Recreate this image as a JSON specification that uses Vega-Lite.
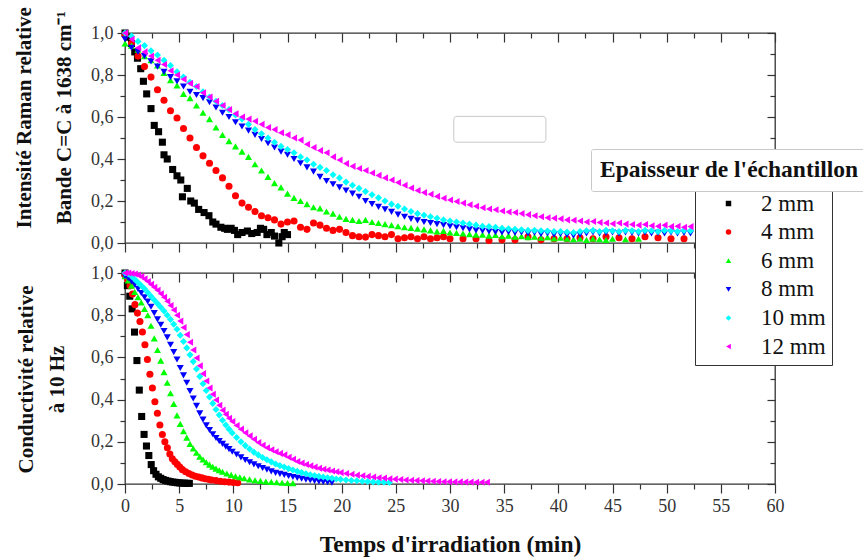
{
"$schema":"https://vega.github.io/schema/vega-lite/v6.json",
"background":"white",
"padding":{"left":13,"top":6,"right":0,"bottom":0},
"config":{"font":"Liberation Serif","view":{"stroke":"#333","strokeWidth":1.3},
"axis":{"labelFont":"Liberation Serif","titleFont":"Liberation Serif","grid":false,"domain":false,"tickColor":"#333","tickWidth":1.2,"labelColor":"#333","titleColor":"#111"},
"legend":{"labelFont":"Liberation Serif","titleFont":"Liberation Serif"}},
"datasets":{
"ram":[
{"s":2,"t":0,"v":1},{"s":2,"t":0.3,"v":0.98},{"s":2,"t":0.6,"v":0.95},{"s":2,"t":0.9,"v":0.91},{"s":2,"t":1.15,"v":0.88},{"s":2,"t":1.45,"v":0.83},{"s":2,"t":1.7,"v":0.77},{"s":2,"t":2.0,"v":0.71},{"s":2,"t":2.4,"v":0.64},{"s":2,"t":2.7,"v":0.56},{"s":2,"t":3.1,"v":0.53},{"s":2,"t":3.45,"v":0.48},{"s":2,"t":3.6,"v":0.42},{"s":2,"t":3.9,"v":0.4},{"s":2,"t":4.4,"v":0.35},{"s":2,"t":4.8,"v":0.32},{"s":2,"t":5.15,"v":0.3},{"s":2,"t":5.3,"v":0.22},{"s":2,"t":5.75,"v":0.26},{"s":2,"t":6.07,"v":0.2},{"s":2,"t":6.4,"v":0.19},{"s":2,"t":6.8,"v":0.16},{"s":2,"t":7.3,"v":0.145},{"s":2,"t":7.75,"v":0.13},{"s":2,"t":8.1,"v":0.1},{"s":2,"t":8.4,"v":0.09},{"s":2,"t":8.85,"v":0.075},{"s":2,"t":9.2,"v":0.07},{"s":2,"t":9.45,"v":0.065},{"s":2,"t":9.8,"v":0.07},{"s":2,"t":10.1,"v":0.06},{"s":2,"t":10.4,"v":0.04},{"s":2,"t":10.8,"v":0.05},{"s":2,"t":11.3,"v":0.057},{"s":2,"t":11.7,"v":0.045},{"s":2,"t":12.2,"v":0.05},{"s":2,"t":12.5,"v":0.07},{"s":2,"t":12.8,"v":0.065},{"s":2,"t":13.1,"v":0.04},{"s":2,"t":13.5,"v":0.05},{"s":2,"t":13.8,"v":0.033},{"s":2,"t":14.2,"v":0.0},{"s":2,"t":14.5,"v":0.03},{"s":2,"t":14.7,"v":0.05},{"s":2,"t":15.0,"v":0.04},
{"s":4,"t":0,"v":0.99},{"s":4,"t":0.6,"v":0.95},{"s":4,"t":1.2,"v":0.89},{"s":4,"t":1.8,"v":0.84},{"s":4,"t":2.4,"v":0.79},{"s":4,"t":3.0,"v":0.73},{"s":4,"t":3.6,"v":0.68},{"s":4,"t":4.2,"v":0.63},{"s":4,"t":4.8,"v":0.595},{"s":4,"t":5.4,"v":0.545},{"s":4,"t":6.0,"v":0.5},{"s":4,"t":6.6,"v":0.455},{"s":4,"t":7.2,"v":0.415},{"s":4,"t":7.8,"v":0.38},{"s":4,"t":8.4,"v":0.345},{"s":4,"t":9.0,"v":0.31},{"s":4,"t":9.6,"v":0.27},{"s":4,"t":10.2,"v":0.225},{"s":4,"t":10.8,"v":0.19},{"s":4,"t":11.4,"v":0.17},{"s":4,"t":12.0,"v":0.15},{"s":4,"t":12.6,"v":0.13},{"s":4,"t":13.2,"v":0.12},{"s":4,"t":13.8,"v":0.11},{"s":4,"t":14.4,"v":0.09},{"s":4,"t":15.0,"v":0.1},{"s":4,"t":15.6,"v":0.105},{"s":4,"t":16.2,"v":0.075},{"s":4,"t":16.8,"v":0.065},{"s":4,"t":17.4,"v":0.095},{"s":4,"t":18.0,"v":0.085},{"s":4,"t":18.6,"v":0.07},{"s":4,"t":19.2,"v":0.06},{"s":4,"t":19.8,"v":0.065},{"s":4,"t":20.4,"v":0.05},{"s":4,"t":21.0,"v":0.035},{"s":4,"t":21.6,"v":0.03},{"s":4,"t":22.2,"v":0.028},{"s":4,"t":22.8,"v":0.04},{"s":4,"t":23.4,"v":0.035},{"s":4,"t":24.0,"v":0.03},{"s":4,"t":24.6,"v":0.04},{"s":4,"t":25.2,"v":0.02},{"s":4,"t":25.8,"v":0.025},{"s":4,"t":26.4,"v":0.03},{"s":4,"t":27.0,"v":0.02},{"s":4,"t":27.6,"v":0.03},{"s":4,"t":28.2,"v":0.02},{"s":4,"t":28.8,"v":0.025},{"s":4,"t":29.4,"v":0.03},{"s":4,"t":30.0,"v":0.02},{"s":4,"t":31.2,"v":0.02},{"s":4,"t":32.4,"v":0.02},{"s":4,"t":33.6,"v":0.012},{"s":4,"t":34.8,"v":0.015},{"s":4,"t":36.0,"v":0.015},{"s":4,"t":37.2,"v":0.03},{"s":4,"t":38.4,"v":0.015},{"s":4,"t":39.6,"v":0.02},{"s":4,"t":40.8,"v":0.02},{"s":4,"t":42.0,"v":0.025},{"s":4,"t":43.2,"v":0.02},{"s":4,"t":44.4,"v":0.03},{"s":4,"t":45.6,"v":0.025},{"s":4,"t":46.8,"v":0.02},{"s":4,"t":48.0,"v":0.03},{"s":4,"t":49.2,"v":0.025},{"s":4,"t":50.4,"v":0.02},{"s":4,"t":51.6,"v":0.02},
{"s":6,"t":0,"v":0.95},{"s":6,"t":0.6,"v":0.94},{"s":6,"t":1.2,"v":0.92},{"s":6,"t":1.8,"v":0.89},{"s":6,"t":2.4,"v":0.87},{"s":6,"t":3.0,"v":0.845},{"s":6,"t":3.6,"v":0.81},{"s":6,"t":4.2,"v":0.775},{"s":6,"t":4.8,"v":0.75},{"s":6,"t":5.4,"v":0.71},{"s":6,"t":6.0,"v":0.69},{"s":6,"t":6.6,"v":0.655},{"s":6,"t":7.2,"v":0.62},{"s":6,"t":7.8,"v":0.59},{"s":6,"t":8.4,"v":0.55},{"s":6,"t":9.0,"v":0.515},{"s":6,"t":9.6,"v":0.485},{"s":6,"t":10.2,"v":0.46},{"s":6,"t":10.8,"v":0.435},{"s":6,"t":11.4,"v":0.41},{"s":6,"t":12.0,"v":0.375},{"s":6,"t":12.6,"v":0.345},{"s":6,"t":13.2,"v":0.315},{"s":6,"t":13.8,"v":0.285},{"s":6,"t":14.4,"v":0.265},{"s":6,"t":15.0,"v":0.235},{"s":6,"t":15.6,"v":0.215},{"s":6,"t":16.2,"v":0.2},{"s":6,"t":16.8,"v":0.185},{"s":6,"t":17.4,"v":0.17},{"s":6,"t":18.0,"v":0.165},{"s":6,"t":18.6,"v":0.15},{"s":6,"t":19.2,"v":0.14},{"s":6,"t":19.8,"v":0.125},{"s":6,"t":20.4,"v":0.115},{"s":6,"t":21.0,"v":0.11},{"s":6,"t":21.6,"v":0.105},{"s":6,"t":22.2,"v":0.11},{"s":6,"t":22.8,"v":0.1},{"s":6,"t":23.4,"v":0.095},{"s":6,"t":24.0,"v":0.09},{"s":6,"t":24.6,"v":0.085},{"s":6,"t":25.2,"v":0.08},{"s":6,"t":25.8,"v":0.075},{"s":6,"t":26.4,"v":0.072},{"s":6,"t":27.0,"v":0.068},{"s":6,"t":27.6,"v":0.065},{"s":6,"t":28.2,"v":0.06},{"s":6,"t":28.8,"v":0.055},{"s":6,"t":29.4,"v":0.058},{"s":6,"t":30.0,"v":0.05},{"s":6,"t":30.6,"v":0.048},{"s":6,"t":31.2,"v":0.045},{"s":6,"t":31.8,"v":0.042},{"s":6,"t":32.4,"v":0.04},{"s":6,"t":33.0,"v":0.04},{"s":6,"t":33.6,"v":0.035},{"s":6,"t":34.2,"v":0.038},{"s":6,"t":34.8,"v":0.032},{"s":6,"t":35.4,"v":0.035},{"s":6,"t":36.0,"v":0.03},{"s":6,"t":36.6,"v":0.032},{"s":6,"t":37.2,"v":0.028},{"s":6,"t":37.8,"v":0.03},{"s":6,"t":38.4,"v":0.025},{"s":6,"t":39.0,"v":0.028},{"s":6,"t":39.6,"v":0.022},{"s":6,"t":40.2,"v":0.025},{"s":6,"t":40.8,"v":0.02},{"s":6,"t":41.4,"v":0.018},{"s":6,"t":42.0,"v":0.02},{"s":6,"t":42.6,"v":0.015},{"s":6,"t":43.2,"v":0.02},{"s":6,"t":43.8,"v":0.018},{"s":6,"t":44.4,"v":0.015},{"s":6,"t":45.0,"v":0.02},{"s":6,"t":46.2,"v":0.018},{"s":6,"t":47.4,"v":0.02},
{"s":8,"t":0,"v":0.97},{"s":8,"t":0.6,"v":0.93},{"s":8,"t":1.2,"v":0.91},{"s":8,"t":1.8,"v":0.89},{"s":8,"t":2.4,"v":0.865},{"s":8,"t":3.0,"v":0.84},{"s":8,"t":3.6,"v":0.815},{"s":8,"t":4.2,"v":0.79},{"s":8,"t":4.8,"v":0.77},{"s":8,"t":5.4,"v":0.745},{"s":8,"t":6.0,"v":0.72},{"s":8,"t":6.6,"v":0.705},{"s":8,"t":7.2,"v":0.69},{"s":8,"t":7.8,"v":0.67},{"s":8,"t":8.4,"v":0.645},{"s":8,"t":9.0,"v":0.62},{"s":8,"t":9.6,"v":0.6},{"s":8,"t":10.2,"v":0.575},{"s":8,"t":10.8,"v":0.555},{"s":8,"t":11.4,"v":0.535},{"s":8,"t":12.0,"v":0.515},{"s":8,"t":12.6,"v":0.495},{"s":8,"t":13.2,"v":0.475},{"s":8,"t":13.8,"v":0.455},{"s":8,"t":14.4,"v":0.435},{"s":8,"t":15.0,"v":0.42},{"s":8,"t":15.6,"v":0.4},{"s":8,"t":16.2,"v":0.38},{"s":8,"t":16.8,"v":0.36},{"s":8,"t":17.4,"v":0.34},{"s":8,"t":18.0,"v":0.315},{"s":8,"t":18.6,"v":0.295},{"s":8,"t":19.2,"v":0.28},{"s":8,"t":19.8,"v":0.265},{"s":8,"t":20.4,"v":0.25},{"s":8,"t":21.0,"v":0.235},{"s":8,"t":21.6,"v":0.22},{"s":8,"t":22.2,"v":0.2},{"s":8,"t":22.8,"v":0.185},{"s":8,"t":23.4,"v":0.172},{"s":8,"t":24.0,"v":0.16},{"s":8,"t":24.6,"v":0.148},{"s":8,"t":25.2,"v":0.135},{"s":8,"t":25.8,"v":0.125},{"s":8,"t":26.4,"v":0.115},{"s":8,"t":27.0,"v":0.108},{"s":8,"t":27.6,"v":0.1},{"s":8,"t":28.2,"v":0.095},{"s":8,"t":28.8,"v":0.09},{"s":8,"t":29.4,"v":0.085},{"s":8,"t":30.0,"v":0.08},{"s":8,"t":30.6,"v":0.075},{"s":8,"t":31.2,"v":0.07},{"s":8,"t":31.8,"v":0.065},{"s":8,"t":32.4,"v":0.06},{"s":8,"t":33.0,"v":0.058},{"s":8,"t":33.6,"v":0.055},{"s":8,"t":34.2,"v":0.052},{"s":8,"t":34.8,"v":0.05},{"s":8,"t":35.4,"v":0.052},{"s":8,"t":36.0,"v":0.048},{"s":8,"t":36.6,"v":0.05},{"s":8,"t":37.2,"v":0.045},{"s":8,"t":37.8,"v":0.048},{"s":8,"t":38.4,"v":0.042},{"s":8,"t":39.0,"v":0.045},{"s":8,"t":39.6,"v":0.04},{"s":8,"t":40.2,"v":0.042},{"s":8,"t":40.8,"v":0.038},{"s":8,"t":41.4,"v":0.035},{"s":8,"t":42.0,"v":0.04},{"s":8,"t":42.6,"v":0.045},{"s":8,"t":43.2,"v":0.05},{"s":8,"t":43.8,"v":0.045},{"s":8,"t":44.4,"v":0.048},{"s":8,"t":45.0,"v":0.05},{"s":8,"t":45.6,"v":0.045},{"s":8,"t":46.2,"v":0.05},{"s":8,"t":46.8,"v":0.048},{"s":8,"t":47.4,"v":0.045},{"s":8,"t":48.0,"v":0.05},{"s":8,"t":48.6,"v":0.045},{"s":8,"t":49.2,"v":0.048},{"s":8,"t":49.8,"v":0.045},{"s":8,"t":50.4,"v":0.05},{"s":8,"t":51.0,"v":0.045},{"s":8,"t":51.6,"v":0.048},{"s":8,"t":52.2,"v":0.045},
{"s":10,"t":0,"v":1.0},{"s":10,"t":0.6,"v":0.985},{"s":10,"t":1.2,"v":0.96},{"s":10,"t":1.8,"v":0.94},{"s":10,"t":2.4,"v":0.915},{"s":10,"t":3.0,"v":0.895},{"s":10,"t":3.6,"v":0.87},{"s":10,"t":4.2,"v":0.845},{"s":10,"t":4.8,"v":0.815},{"s":10,"t":5.4,"v":0.79},{"s":10,"t":6.0,"v":0.765},{"s":10,"t":6.6,"v":0.745},{"s":10,"t":7.2,"v":0.72},{"s":10,"t":7.8,"v":0.695},{"s":10,"t":8.4,"v":0.675},{"s":10,"t":9.0,"v":0.655},{"s":10,"t":9.6,"v":0.635},{"s":10,"t":10.2,"v":0.61},{"s":10,"t":10.8,"v":0.59},{"s":10,"t":11.4,"v":0.565},{"s":10,"t":12.0,"v":0.54},{"s":10,"t":12.6,"v":0.52},{"s":10,"t":13.2,"v":0.5},{"s":10,"t":13.8,"v":0.48},{"s":10,"t":14.4,"v":0.46},{"s":10,"t":15.0,"v":0.445},{"s":10,"t":15.6,"v":0.43},{"s":10,"t":16.2,"v":0.41},{"s":10,"t":16.8,"v":0.395},{"s":10,"t":17.4,"v":0.375},{"s":10,"t":18.0,"v":0.36},{"s":10,"t":18.6,"v":0.345},{"s":10,"t":19.2,"v":0.325},{"s":10,"t":19.8,"v":0.31},{"s":10,"t":20.4,"v":0.29},{"s":10,"t":21.0,"v":0.275},{"s":10,"t":21.6,"v":0.26},{"s":10,"t":22.2,"v":0.245},{"s":10,"t":22.8,"v":0.23},{"s":10,"t":23.4,"v":0.215},{"s":10,"t":24.0,"v":0.2},{"s":10,"t":24.6,"v":0.185},{"s":10,"t":25.2,"v":0.175},{"s":10,"t":25.8,"v":0.162},{"s":10,"t":26.4,"v":0.15},{"s":10,"t":27.0,"v":0.14},{"s":10,"t":27.6,"v":0.132},{"s":10,"t":28.2,"v":0.125},{"s":10,"t":28.8,"v":0.118},{"s":10,"t":29.4,"v":0.11},{"s":10,"t":30.0,"v":0.105},{"s":10,"t":30.6,"v":0.1},{"s":10,"t":31.2,"v":0.095},{"s":10,"t":31.8,"v":0.09},{"s":10,"t":32.4,"v":0.085},{"s":10,"t":33.0,"v":0.08},{"s":10,"t":33.6,"v":0.078},{"s":10,"t":34.2,"v":0.075},{"s":10,"t":34.8,"v":0.07},{"s":10,"t":35.4,"v":0.068},{"s":10,"t":36.0,"v":0.065},{"s":10,"t":36.6,"v":0.063},{"s":10,"t":37.2,"v":0.06},{"s":10,"t":37.8,"v":0.06},{"s":10,"t":38.4,"v":0.058},{"s":10,"t":39.0,"v":0.057},{"s":10,"t":39.6,"v":0.055},{"s":10,"t":40.2,"v":0.055},{"s":10,"t":40.8,"v":0.052},{"s":10,"t":41.4,"v":0.05},{"s":10,"t":42.0,"v":0.055},{"s":10,"t":42.6,"v":0.058},{"s":10,"t":43.2,"v":0.06},{"s":10,"t":43.8,"v":0.055},{"s":10,"t":44.4,"v":0.06},{"s":10,"t":45.0,"v":0.058},{"s":10,"t":45.6,"v":0.055},{"s":10,"t":46.2,"v":0.06},{"s":10,"t":46.8,"v":0.058},{"s":10,"t":47.4,"v":0.055},{"s":10,"t":48.0,"v":0.06},{"s":10,"t":48.6,"v":0.058},{"s":10,"t":49.2,"v":0.055},{"s":10,"t":49.8,"v":0.06},{"s":10,"t":50.4,"v":0.058},{"s":10,"t":51.0,"v":0.055},{"s":10,"t":51.6,"v":0.06},{"s":10,"t":52.2,"v":0.058},
{"s":12,"t":0,"v":1.0},{"s":12,"t":0.6,"v":0.97},{"s":12,"t":1.2,"v":0.93},{"s":12,"t":1.8,"v":0.91},{"s":12,"t":2.4,"v":0.89},{"s":12,"t":3.0,"v":0.87},{"s":12,"t":3.6,"v":0.85},{"s":12,"t":4.2,"v":0.82},{"s":12,"t":4.8,"v":0.8},{"s":12,"t":5.4,"v":0.78},{"s":12,"t":6.0,"v":0.76},{"s":12,"t":6.6,"v":0.745},{"s":12,"t":7.2,"v":0.715},{"s":12,"t":7.8,"v":0.695},{"s":12,"t":8.4,"v":0.675},{"s":12,"t":9.0,"v":0.655},{"s":12,"t":9.6,"v":0.635},{"s":12,"t":10.2,"v":0.615},{"s":12,"t":10.8,"v":0.6},{"s":12,"t":11.4,"v":0.59},{"s":12,"t":12.0,"v":0.58},{"s":12,"t":12.6,"v":0.565},{"s":12,"t":13.2,"v":0.55},{"s":12,"t":13.8,"v":0.54},{"s":12,"t":14.4,"v":0.525},{"s":12,"t":15.0,"v":0.515},{"s":12,"t":15.6,"v":0.5},{"s":12,"t":16.2,"v":0.49},{"s":12,"t":16.8,"v":0.47},{"s":12,"t":17.4,"v":0.455},{"s":12,"t":18.0,"v":0.44},{"s":12,"t":18.6,"v":0.43},{"s":12,"t":19.2,"v":0.41},{"s":12,"t":19.8,"v":0.395},{"s":12,"t":20.4,"v":0.378},{"s":12,"t":21.0,"v":0.365},{"s":12,"t":21.6,"v":0.355},{"s":12,"t":22.2,"v":0.345},{"s":12,"t":22.8,"v":0.333},{"s":12,"t":23.4,"v":0.322},{"s":12,"t":24.0,"v":0.31},{"s":12,"t":24.6,"v":0.3},{"s":12,"t":25.2,"v":0.288},{"s":12,"t":25.8,"v":0.275},{"s":12,"t":26.4,"v":0.262},{"s":12,"t":27.0,"v":0.25},{"s":12,"t":27.6,"v":0.24},{"s":12,"t":28.2,"v":0.232},{"s":12,"t":28.8,"v":0.222},{"s":12,"t":29.4,"v":0.213},{"s":12,"t":30.0,"v":0.205},{"s":12,"t":30.6,"v":0.198},{"s":12,"t":31.2,"v":0.19},{"s":12,"t":31.8,"v":0.182},{"s":12,"t":32.4,"v":0.175},{"s":12,"t":33.0,"v":0.168},{"s":12,"t":33.6,"v":0.162},{"s":12,"t":34.2,"v":0.158},{"s":12,"t":34.8,"v":0.152},{"s":12,"t":35.4,"v":0.148},{"s":12,"t":36.0,"v":0.145},{"s":12,"t":36.6,"v":0.14},{"s":12,"t":37.2,"v":0.135},{"s":12,"t":37.8,"v":0.13},{"s":12,"t":38.4,"v":0.125},{"s":12,"t":39.0,"v":0.12},{"s":12,"t":39.6,"v":0.118},{"s":12,"t":40.2,"v":0.115},{"s":12,"t":40.8,"v":0.11},{"s":12,"t":41.4,"v":0.108},{"s":12,"t":42.0,"v":0.105},{"s":12,"t":42.6,"v":0.1},{"s":12,"t":43.2,"v":0.102},{"s":12,"t":43.8,"v":0.098},{"s":12,"t":44.4,"v":0.095},{"s":12,"t":45.0,"v":0.092},{"s":12,"t":45.6,"v":0.095},{"s":12,"t":46.2,"v":0.09},{"s":12,"t":46.8,"v":0.088},{"s":12,"t":47.4,"v":0.085},{"s":12,"t":48.0,"v":0.088},{"s":12,"t":48.6,"v":0.082},{"s":12,"t":49.2,"v":0.08},{"s":12,"t":49.8,"v":0.085},{"s":12,"t":50.4,"v":0.078},{"s":12,"t":51.0,"v":0.08},{"s":12,"t":51.6,"v":0.075},{"s":12,"t":52.2,"v":0.078}
],
"con":[
{"s":2,"t":0,"v":1.0},{"s":2,"t":0.22,"v":0.94},{"s":2,"t":0.44,"v":0.89},{"s":2,"t":0.66,"v":0.83},{"s":2,"t":0.88,"v":0.72},{"s":2,"t":1.1,"v":0.585},{"s":2,"t":1.32,"v":0.445},{"s":2,"t":1.54,"v":0.32},{"s":2,"t":1.76,"v":0.235},{"s":2,"t":1.98,"v":0.18},{"s":2,"t":2.2,"v":0.135},{"s":2,"t":2.42,"v":0.092},{"s":2,"t":2.64,"v":0.063},{"s":2,"t":2.86,"v":0.046},{"s":2,"t":3.08,"v":0.034},{"s":2,"t":3.3,"v":0.027},{"s":2,"t":3.52,"v":0.021},{"s":2,"t":3.74,"v":0.017},{"s":2,"t":3.96,"v":0.014},{"s":2,"t":4.18,"v":0.011},{"s":2,"t":4.4,"v":0.009},{"s":2,"t":4.62,"v":0.008},{"s":2,"t":4.84,"v":0.006},{"s":2,"t":5.06,"v":0.005},{"s":2,"t":5.28,"v":0.004},{"s":2,"t":5.5,"v":0.004},{"s":2,"t":5.72,"v":0.003},{"s":2,"t":5.94,"v":0.003},
{"s":4,"t":0,"v":0.99},{"s":4,"t":0.23,"v":0.97},{"s":4,"t":0.46,"v":0.94},{"s":4,"t":0.69,"v":0.9},{"s":4,"t":0.92,"v":0.85},{"s":4,"t":1.15,"v":0.81},{"s":4,"t":1.38,"v":0.77},{"s":4,"t":1.61,"v":0.72},{"s":4,"t":1.84,"v":0.66},{"s":4,"t":2.07,"v":0.59},{"s":4,"t":2.3,"v":0.52},{"s":4,"t":2.53,"v":0.455},{"s":4,"t":2.76,"v":0.39},{"s":4,"t":2.99,"v":0.335},{"s":4,"t":3.22,"v":0.28},{"s":4,"t":3.45,"v":0.235},{"s":4,"t":3.68,"v":0.2},{"s":4,"t":3.91,"v":0.172},{"s":4,"t":4.14,"v":0.142},{"s":4,"t":4.37,"v":0.12},{"s":4,"t":4.6,"v":0.105},{"s":4,"t":4.83,"v":0.093},{"s":4,"t":5.06,"v":0.08},{"s":4,"t":5.3,"v":0.068},{"s":4,"t":5.6,"v":0.058},{"s":4,"t":5.9,"v":0.05},{"s":4,"t":6.2,"v":0.043},{"s":4,"t":6.5,"v":0.037},{"s":4,"t":6.8,"v":0.033},{"s":4,"t":7.1,"v":0.029},{"s":4,"t":7.4,"v":0.025},{"s":4,"t":7.7,"v":0.022},{"s":4,"t":8.0,"v":0.019},{"s":4,"t":8.4,"v":0.016},{"s":4,"t":8.8,"v":0.013},{"s":4,"t":9.2,"v":0.011},{"s":4,"t":9.6,"v":0.009},{"s":4,"t":10.0,"v":0.007},{"s":4,"t":10.4,"v":0.006},
{"s":6,"t":0,"v":0.985},{"s":6,"t":0.3,"v":0.965},{"s":6,"t":0.6,"v":0.94},{"s":6,"t":0.9,"v":0.91},{"s":6,"t":1.2,"v":0.885},{"s":6,"t":1.5,"v":0.86},{"s":6,"t":1.8,"v":0.83},{"s":6,"t":2.1,"v":0.8},{"s":6,"t":2.4,"v":0.75},{"s":6,"t":2.7,"v":0.69},{"s":6,"t":3.0,"v":0.635},{"s":6,"t":3.3,"v":0.585},{"s":6,"t":3.6,"v":0.53},{"s":6,"t":3.9,"v":0.48},{"s":6,"t":4.2,"v":0.43},{"s":6,"t":4.5,"v":0.38},{"s":6,"t":4.8,"v":0.325},{"s":6,"t":5.1,"v":0.285},{"s":6,"t":5.4,"v":0.25},{"s":6,"t":5.7,"v":0.22},{"s":6,"t":6.0,"v":0.19},{"s":6,"t":6.3,"v":0.168},{"s":6,"t":6.6,"v":0.148},{"s":6,"t":6.9,"v":0.13},{"s":6,"t":7.2,"v":0.116},{"s":6,"t":7.5,"v":0.103},{"s":6,"t":7.8,"v":0.092},{"s":6,"t":8.1,"v":0.082},{"s":6,"t":8.4,"v":0.073},{"s":6,"t":8.7,"v":0.065},{"s":6,"t":9.0,"v":0.058},{"s":6,"t":9.4,"v":0.05},{"s":6,"t":9.8,"v":0.043},{"s":6,"t":10.2,"v":0.037},{"s":6,"t":10.6,"v":0.032},{"s":6,"t":11.0,"v":0.027},{"s":6,"t":11.5,"v":0.022},{"s":6,"t":12.0,"v":0.018},{"s":6,"t":12.5,"v":0.015},{"s":6,"t":13.0,"v":0.012},{"s":6,"t":13.5,"v":0.01},{"s":6,"t":14.0,"v":0.008},{"s":6,"t":14.5,"v":0.006},{"s":6,"t":15.0,"v":0.005},{"s":6,"t":15.5,"v":0.004},
{"s":8,"t":0,"v":0.985},{"s":8,"t":0.3,"v":0.975},{"s":8,"t":0.6,"v":0.96},{"s":8,"t":0.9,"v":0.945},{"s":8,"t":1.2,"v":0.925},{"s":8,"t":1.5,"v":0.905},{"s":8,"t":1.8,"v":0.885},{"s":8,"t":2.1,"v":0.865},{"s":8,"t":2.4,"v":0.84},{"s":8,"t":2.7,"v":0.81},{"s":8,"t":3.0,"v":0.78},{"s":8,"t":3.3,"v":0.755},{"s":8,"t":3.6,"v":0.725},{"s":8,"t":3.9,"v":0.695},{"s":8,"t":4.2,"v":0.66},{"s":8,"t":4.5,"v":0.625},{"s":8,"t":4.8,"v":0.59},{"s":8,"t":5.1,"v":0.55},{"s":8,"t":5.4,"v":0.515},{"s":8,"t":5.7,"v":0.48},{"s":8,"t":6.0,"v":0.44},{"s":8,"t":6.3,"v":0.405},{"s":8,"t":6.6,"v":0.37},{"s":8,"t":6.9,"v":0.335},{"s":8,"t":7.2,"v":0.305},{"s":8,"t":7.5,"v":0.278},{"s":8,"t":7.8,"v":0.256},{"s":8,"t":8.1,"v":0.236},{"s":8,"t":8.4,"v":0.218},{"s":8,"t":8.7,"v":0.203},{"s":8,"t":9.0,"v":0.19},{"s":8,"t":9.3,"v":0.177},{"s":8,"t":9.6,"v":0.165},{"s":8,"t":9.9,"v":0.153},{"s":8,"t":10.3,"v":0.14},{"s":8,"t":10.7,"v":0.126},{"s":8,"t":11.1,"v":0.114},{"s":8,"t":11.5,"v":0.103},{"s":8,"t":11.9,"v":0.093},{"s":8,"t":12.3,"v":0.084},{"s":8,"t":12.7,"v":0.076},{"s":8,"t":13.1,"v":0.068},{"s":8,"t":13.5,"v":0.06},{"s":8,"t":13.9,"v":0.053},{"s":8,"t":14.3,"v":0.048},{"s":8,"t":14.7,"v":0.043},{"s":8,"t":15.1,"v":0.038},{"s":8,"t":15.5,"v":0.033},{"s":8,"t":15.9,"v":0.029},{"s":8,"t":16.3,"v":0.025},{"s":8,"t":16.7,"v":0.021},{"s":8,"t":17.1,"v":0.018},{"s":8,"t":17.5,"v":0.015},{"s":8,"t":17.9,"v":0.012},{"s":8,"t":18.3,"v":0.01},{"s":8,"t":18.7,"v":0.008},{"s":8,"t":19.1,"v":0.006},
{"s":10,"t":0,"v":1.0},{"s":10,"t":0.3,"v":0.995},{"s":10,"t":0.6,"v":0.985},{"s":10,"t":0.9,"v":0.97},{"s":10,"t":1.2,"v":0.955},{"s":10,"t":1.5,"v":0.94},{"s":10,"t":1.8,"v":0.925},{"s":10,"t":2.1,"v":0.908},{"s":10,"t":2.4,"v":0.89},{"s":10,"t":2.7,"v":0.872},{"s":10,"t":3.0,"v":0.855},{"s":10,"t":3.3,"v":0.838},{"s":10,"t":3.6,"v":0.82},{"s":10,"t":3.9,"v":0.8},{"s":10,"t":4.2,"v":0.78},{"s":10,"t":4.5,"v":0.757},{"s":10,"t":4.8,"v":0.733},{"s":10,"t":5.1,"v":0.705},{"s":10,"t":5.4,"v":0.675},{"s":10,"t":5.7,"v":0.645},{"s":10,"t":6.0,"v":0.612},{"s":10,"t":6.3,"v":0.58},{"s":10,"t":6.6,"v":0.545},{"s":10,"t":6.9,"v":0.51},{"s":10,"t":7.2,"v":0.475},{"s":10,"t":7.5,"v":0.443},{"s":10,"t":7.8,"v":0.412},{"s":10,"t":8.1,"v":0.382},{"s":10,"t":8.4,"v":0.353},{"s":10,"t":8.7,"v":0.327},{"s":10,"t":9.0,"v":0.302},{"s":10,"t":9.3,"v":0.28},{"s":10,"t":9.6,"v":0.26},{"s":10,"t":9.9,"v":0.242},{"s":10,"t":10.3,"v":0.22},{"s":10,"t":10.7,"v":0.2},{"s":10,"t":11.1,"v":0.182},{"s":10,"t":11.5,"v":0.166},{"s":10,"t":11.9,"v":0.151},{"s":10,"t":12.3,"v":0.138},{"s":10,"t":12.7,"v":0.126},{"s":10,"t":13.1,"v":0.115},{"s":10,"t":13.5,"v":0.105},{"s":10,"t":13.9,"v":0.095},{"s":10,"t":14.3,"v":0.087},{"s":10,"t":14.7,"v":0.08},{"s":10,"t":15.1,"v":0.073},{"s":10,"t":15.5,"v":0.066},{"s":10,"t":15.9,"v":0.06},{"s":10,"t":16.3,"v":0.054},{"s":10,"t":16.7,"v":0.049},{"s":10,"t":17.1,"v":0.044},{"s":10,"t":17.5,"v":0.04},{"s":10,"t":17.9,"v":0.036},{"s":10,"t":18.3,"v":0.033},{"s":10,"t":18.7,"v":0.03},{"s":10,"t":19.1,"v":0.027},{"s":10,"t":19.5,"v":0.024},{"s":10,"t":19.9,"v":0.022},{"s":10,"t":20.4,"v":0.019},{"s":10,"t":20.9,"v":0.017},{"s":10,"t":21.4,"v":0.015},{"s":10,"t":21.9,"v":0.013},{"s":10,"t":22.4,"v":0.012},{"s":10,"t":22.9,"v":0.01},{"s":10,"t":23.4,"v":0.009},{"s":10,"t":23.9,"v":0.008},{"s":10,"t":24.4,"v":0.007},
{"s":12,"t":0,"v":1.0},{"s":12,"t":0.3,"v":1.0},{"s":12,"t":0.6,"v":0.998},{"s":12,"t":0.9,"v":0.995},{"s":12,"t":1.2,"v":0.99},{"s":12,"t":1.5,"v":0.983},{"s":12,"t":1.8,"v":0.972},{"s":12,"t":2.1,"v":0.96},{"s":12,"t":2.4,"v":0.946},{"s":12,"t":2.7,"v":0.932},{"s":12,"t":3.0,"v":0.918},{"s":12,"t":3.3,"v":0.902},{"s":12,"t":3.6,"v":0.885},{"s":12,"t":3.9,"v":0.866},{"s":12,"t":4.2,"v":0.846},{"s":12,"t":4.5,"v":0.825},{"s":12,"t":4.8,"v":0.8},{"s":12,"t":5.1,"v":0.772},{"s":12,"t":5.4,"v":0.742},{"s":12,"t":5.7,"v":0.708},{"s":12,"t":6.0,"v":0.672},{"s":12,"t":6.3,"v":0.635},{"s":12,"t":6.6,"v":0.597},{"s":12,"t":6.9,"v":0.56},{"s":12,"t":7.2,"v":0.523},{"s":12,"t":7.5,"v":0.488},{"s":12,"t":7.8,"v":0.455},{"s":12,"t":8.1,"v":0.425},{"s":12,"t":8.4,"v":0.398},{"s":12,"t":8.7,"v":0.373},{"s":12,"t":9.0,"v":0.35},{"s":12,"t":9.3,"v":0.33},{"s":12,"t":9.6,"v":0.312},{"s":12,"t":9.9,"v":0.296},{"s":12,"t":10.3,"v":0.277},{"s":12,"t":10.7,"v":0.26},{"s":12,"t":11.1,"v":0.243},{"s":12,"t":11.5,"v":0.228},{"s":12,"t":11.9,"v":0.212},{"s":12,"t":12.3,"v":0.197},{"s":12,"t":12.7,"v":0.184},{"s":12,"t":13.1,"v":0.172},{"s":12,"t":13.5,"v":0.162},{"s":12,"t":13.9,"v":0.153},{"s":12,"t":14.3,"v":0.145},{"s":12,"t":14.7,"v":0.138},{"s":12,"t":15.1,"v":0.127},{"s":12,"t":15.5,"v":0.117},{"s":12,"t":15.9,"v":0.107},{"s":12,"t":16.3,"v":0.099},{"s":12,"t":16.7,"v":0.092},{"s":12,"t":17.1,"v":0.086},{"s":12,"t":17.5,"v":0.08},{"s":12,"t":17.9,"v":0.075},{"s":12,"t":18.3,"v":0.07},{"s":12,"t":18.7,"v":0.066},{"s":12,"t":19.1,"v":0.062},{"s":12,"t":19.5,"v":0.058},{"s":12,"t":19.9,"v":0.054},{"s":12,"t":20.4,"v":0.05},{"s":12,"t":20.9,"v":0.046},{"s":12,"t":21.4,"v":0.042},{"s":12,"t":21.9,"v":0.039},{"s":12,"t":22.4,"v":0.036},{"s":12,"t":22.9,"v":0.033},{"s":12,"t":23.4,"v":0.03},{"s":12,"t":23.9,"v":0.028},{"s":12,"t":24.4,"v":0.025},{"s":12,"t":24.9,"v":0.023},{"s":12,"t":25.4,"v":0.021},{"s":12,"t":25.9,"v":0.019},{"s":12,"t":26.4,"v":0.018},{"s":12,"t":26.9,"v":0.016},{"s":12,"t":27.4,"v":0.015},{"s":12,"t":27.9,"v":0.014},{"s":12,"t":28.4,"v":0.013},{"s":12,"t":28.9,"v":0.012},{"s":12,"t":29.4,"v":0.011},{"s":12,"t":29.9,"v":0.011},{"s":12,"t":30.4,"v":0.01},{"s":12,"t":30.9,"v":0.01},{"s":12,"t":31.4,"v":0.009},{"s":12,"t":31.9,"v":0.009},{"s":12,"t":32.4,"v":0.008},{"s":12,"t":32.9,"v":0.008},{"s":12,"t":33.4,"v":0.008}
]},
"spacing":30,
"bounds":"flush",
"vconcat":[
{"width":650,"height":210,"data":{"name":"ram"},
"layer":[
{"mark":{"type":"point","filled":true,"opacity":1,"size":50},
"encoding":{
"x":{"field":"t","type":"quantitative","scale":{"domain":[0,60],"nice":false},"axis":{"orient":"bottom","values":[0,5,10,15,20,25,30,35,40,45,50,55,60],"labels":false,"tickSize":9,"title":null}},
"y":{"field":"v","type":"quantitative","scale":{"domain":[0,1],"nice":false},"axis":{"orient":"left","values":[0,0.2,0.4,0.6,0.8,1],"tickSize":8,"labelExpr":"replace(format(datum.value,'.1f'),'.',',')","labelFont":"Liberation Serif","labelFontSize":18,"labelPadding":4,"title":["Intensité Raman relative","Bande C=C à 1638 cm⁻¹"],"titleFont":"Liberation Serif","titleFontSize":21,"titleFontWeight":"bold","titleLineHeight":40,"titleX":-94.3,"titleY":84.3,"titleBaseline":"alphabetic","titleAlign":"center","titleAngle":270}},
"color":{"field":"s","type":"nominal","scale":{"domain":[2,4,6,8,10,12],"range":["#000000","#ff0000","#00ff00","#0000ff","#00ffff","#ff00ff"]},"legend":{"title":null,"orient":"none","legendX":570,"legendY":153,"labelExpr":"datum.label + ' mm'","labelFont":"Liberation Serif","labelFontSize":23,"labelColor":"#111","symbolSize":30,"strokeColor":"#333","fillColor":"white","padding":6,"rowPadding":4.6,"labelOffset":21,"symbolOffset":16}},
"shape":{"field":"s","type":"nominal","scale":{"domain":[2,4,6,8,10,12],"range":["square","circle","triangle-up","triangle-down","diamond","triangle-left"]},"legend":{"title":null,"orient":"none","legendX":570,"legendY":153,"labelExpr":"datum.label + ' mm'","labelFont":"Liberation Serif","labelFontSize":23,"labelColor":"#111","symbolSize":30,"strokeColor":"#333","fillColor":"white","padding":6,"rowPadding":4.6,"labelOffset":21,"symbolOffset":16}}}},
{"mark":{"type":"point","opacity":0},
"encoding":{
"x":{"field":"t","type":"quantitative","axis":{"orient":"bottom","values":[2.5,7.5,12.5,17.5,22.5,27.5,32.5,37.5,42.5,47.5,52.5,57.5],"labels":false,"tickSize":5,"title":null}},
"y":{"field":"v","type":"quantitative","axis":{"orient":"left","values":[0.1,0.3,0.5,0.7,0.9],"labels":false,"tickSize":5,"title":null}},
"size":{"field":"v","type":"quantitative","legend":{"title":"Epaisseur de l'échantillon","values":[],"orient":"none","legendX":466,"legendY":116,"titleFont":"Liberation Serif","titleFontSize":23.5,"titleFontWeight":"bold","titleColor":"#111","titleLimit":600,"strokeColor":"#c8c8c8","fillColor":"white","padding":9,"titlePadding":0,"cornerRadius":2}}}},
{"mark":{"type":"point","opacity":0},
"encoding":{
"x":{"field":"t","type":"quantitative","axis":{"orient":"top","values":[0,5,10,15,20,25,30,35,40,45,50,55,60],"labels":false,"tickSize":-9,"title":null}},
"y":{"field":"v","type":"quantitative","axis":{"orient":"right","values":[0,0.2,0.4,0.6,0.8,1],"labels":false,"tickSize":-8,"title":null}}}},
{"mark":{"type":"point","opacity":0},
"encoding":{
"x":{"field":"t","type":"quantitative","axis":{"orient":"top","values":[2.5,7.5,12.5,17.5,22.5,27.5,32.5,37.5,42.5,47.5,52.5,57.5],"labels":false,"tickSize":-5,"title":null}},
"y":{"field":"v","type":"quantitative","axis":{"orient":"right","values":[0.1,0.3,0.5,0.7,0.9],"labels":false,"tickSize":-5,"title":null}}}},
{"data":{"values":[{"t":30.35,"t2":38.85,"v":0.603,"v2":0.48}]},
"mark":{"type":"rect","fill":"white","stroke":"#c8c8c8","strokeWidth":1,"cornerRadius":3},
"encoding":{"x":{"field":"t","type":"quantitative","axis":null},"x2":{"field":"t2"},"y":{"field":"v","type":"quantitative","axis":null},"y2":{"field":"v2"}}}
],
"resolve":{"axis":{"x":"independent","y":"independent"}}},
{"width":650,"height":211,"data":{"name":"con"},
"layer":[
{"mark":{"type":"point","filled":true,"opacity":1,"size":50},
"encoding":{
"x":{"field":"t","type":"quantitative","scale":{"domain":[0,60],"nice":false},"axis":{"orient":"bottom","values":[0,5,10,15,20,25,30,35,40,45,50,55,60],"tickSize":9,"labelFont":"Liberation Serif","labelFontSize":18,"labelPadding":4,"labelFlush":false,"title":"Temps d'irradiation (min)","titleFont":"Liberation Serif","titleFontSize":23.5,"titleFontWeight":"bold","titleY":67,"titleBaseline":"alphabetic"}},
"y":{"field":"v","type":"quantitative","scale":{"domain":[0,1],"nice":false},"axis":{"orient":"left","values":[0,0.2,0.4,0.6,0.8,1],"tickSize":8,"labelExpr":"replace(format(datum.value,'.1f'),'.',',')","labelFont":"Liberation Serif","labelFontSize":18,"labelPadding":4,"title":["Conductivité relative","à 10 Hz"],"titleFont":"Liberation Serif","titleFontSize":21,"titleFontWeight":"bold","titleLineHeight":31,"titleX":-92.3,"titleY":106,"titleBaseline":"alphabetic","titleAlign":"center","titleAngle":270}},
"color":{"field":"s","type":"nominal","scale":{"domain":[2,4,6,8,10,12],"range":["#000000","#ff0000","#00ff00","#0000ff","#00ffff","#ff00ff"]},"legend":{"title":null,"orient":"none","legendX":570,"legendY":153,"labelExpr":"datum.label + ' mm'","labelFont":"Liberation Serif","labelFontSize":23,"labelColor":"#111","symbolSize":30,"strokeColor":"#333","fillColor":"white","padding":6,"rowPadding":4.6,"labelOffset":21,"symbolOffset":16}},
"shape":{"field":"s","type":"nominal","scale":{"domain":[2,4,6,8,10,12],"range":["square","circle","triangle-up","triangle-down","diamond","triangle-left"]},"legend":{"title":null,"orient":"none","legendX":570,"legendY":153,"labelExpr":"datum.label + ' mm'","labelFont":"Liberation Serif","labelFontSize":23,"labelColor":"#111","symbolSize":30,"strokeColor":"#333","fillColor":"white","padding":6,"rowPadding":4.6,"labelOffset":21,"symbolOffset":16}}}},
{"mark":{"type":"point","opacity":0},
"encoding":{
"x":{"field":"t","type":"quantitative","axis":{"orient":"bottom","values":[2.5,7.5,12.5,17.5,22.5,27.5,32.5,37.5,42.5,47.5,52.5,57.5],"labels":false,"tickSize":5,"title":null}},
"y":{"field":"v","type":"quantitative","axis":{"orient":"left","values":[0.1,0.3,0.5,0.7,0.9],"labels":false,"tickSize":5,"title":null}}}},
{"mark":{"type":"point","opacity":0},
"encoding":{
"x":{"field":"t","type":"quantitative","axis":{"orient":"top","values":[0,5,10,15,20,25,30,35,40,45,50,55,60],"labels":false,"tickSize":-9,"title":null}},
"y":{"field":"v","type":"quantitative","axis":{"orient":"right","values":[0,0.2,0.4,0.6,0.8,1],"labels":false,"tickSize":-8,"title":null}}}},
{"mark":{"type":"point","opacity":0},
"encoding":{
"x":{"field":"t","type":"quantitative","axis":{"orient":"top","values":[2.5,7.5,12.5,17.5,22.5,27.5,32.5,37.5,42.5,47.5,52.5,57.5],"labels":false,"tickSize":-5,"title":null}},
"y":{"field":"v","type":"quantitative","axis":{"orient":"right","values":[0.1,0.3,0.5,0.7,0.9],"labels":false,"tickSize":-5,"title":null}}}}
],
"resolve":{"axis":{"x":"independent","y":"independent"}}}
]
}
